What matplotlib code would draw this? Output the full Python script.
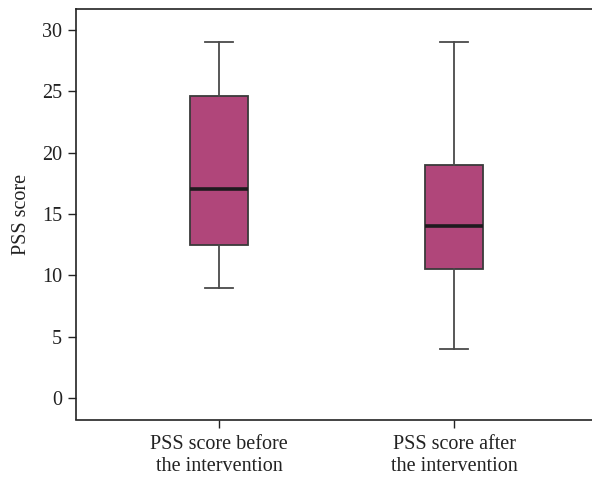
import matplotlib
matplotlib.use("Agg")
import matplotlib.pyplot as plt

categories = ["PSS score before\nthe intervention", "PSS score after\nthe intervention"]
whislo = [9.0, 4.0]
q1 = [12.5, 10.5]
med = [17.0, 14.0]
q3 = [24.6, 19.0]
whishi = [29.0, 29.0]
yticks = [0, 5, 10, 15, 20, 25, 30]

plt.rcParams['font.family'] = ['Liberation Serif', 'DejaVu Serif']

fig = plt.figure(figsize=(5.92, 4.79), dpi=100)
ax = fig.add_axes([76/592, (479-419.5)/479, 1 - 76/592, (419.5-8.7)/479])

stats = []
for i, lab in enumerate(categories):
    stats.append(dict(label=lab, whislo=whislo[i], q1=q1[i], med=med[i],
                      q3=q3[i], whishi=whishi[i], fliers=[]))

ax.bxp(stats, positions=[1, 2], widths=0.247, capwidths=0.12,
       patch_artist=True, showfliers=False,
       boxprops=dict(facecolor='#B0467A', edgecolor='#3a3a3a', linewidth=1.3),
       medianprops=dict(color='#1e1a1e', linewidth=2.6),
       whiskerprops=dict(color='#4a4a4a', linewidth=1.3),
       capprops=dict(color='#4a4a4a', linewidth=1.3))

ax.set_xlim(0.391, 2.587)
ax.set_ylim(-1.72, 31.7)
ax.set_yticks(yticks)
ax.set_ylabel("PSS score", fontsize=14.5, color='#222222', labelpad=8)
ax.spines['right'].set_visible(False)
for s in ['left', 'top', 'bottom']:
    ax.spines[s].set_color('#222222')
    ax.spines[s].set_linewidth(1.2)
ax.tick_params(axis='both', labelsize=14.5, colors='#222222', length=6, width=1.0, direction='out')
ax.tick_params(axis='y', pad=4)
ax.tick_params(axis='x', pad=5)

fig.savefig("out.png", dpi=100)
